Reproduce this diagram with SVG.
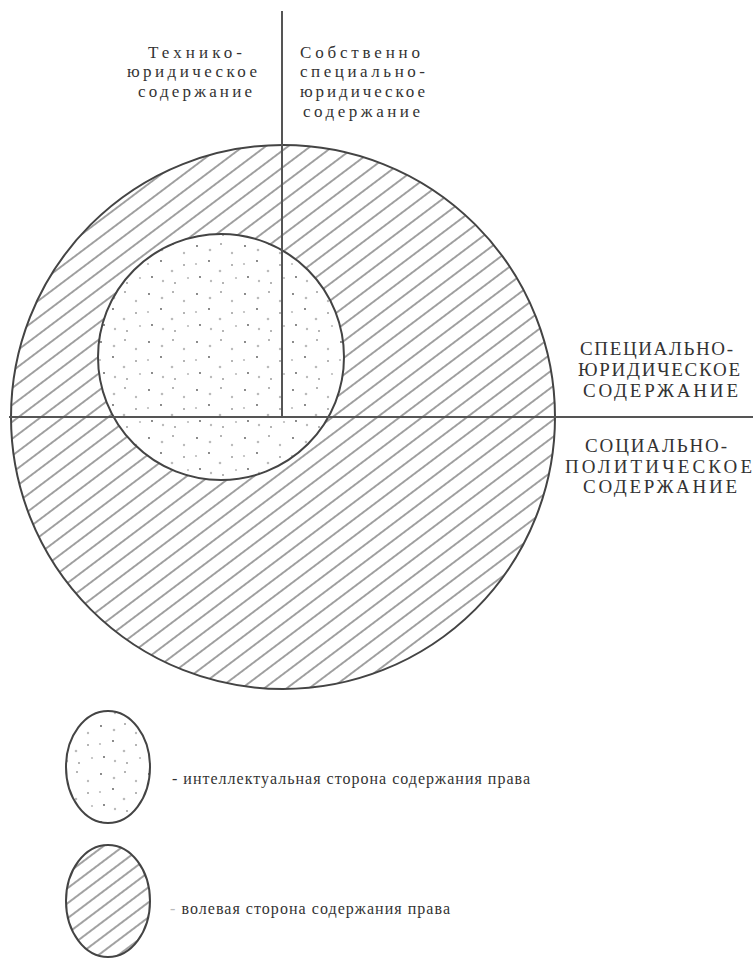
<svg xmlns="http://www.w3.org/2000/svg" width="753" height="959" viewBox="0 0 753 959">
<defs>
<pattern id="hatch" patternUnits="userSpaceOnUse" width="20" height="13.5" patternTransform="rotate(-37)">
<line x1="0" y1="6.75" x2="20" y2="6.75" stroke="#555" stroke-width="1.1"/>
</pattern>
<pattern id="hatch2" patternUnits="userSpaceOnUse" width="20" height="12" patternTransform="rotate(-37)">
<line x1="0" y1="6" x2="20" y2="6" stroke="#555" stroke-width="1.1"/>
</pattern>
<pattern id="dots" patternUnits="userSpaceOnUse" width="48" height="48">
<g fill="#555">
<circle cx="5" cy="6" r="0.9"/>
<circle cx="29" cy="4" r="0.8"/>
<circle cx="17" cy="21" r="0.9"/>
<circle cx="40" cy="25" r="0.8"/>
<circle cx="8" cy="37" r="0.9"/>
<circle cx="31" cy="43" r="0.8"/>
</g>
<g fill="#bbb">
<circle cx="18" cy="10" r="1.3"/>
<circle cx="40" cy="13" r="1.2"/>
<circle cx="28" cy="31" r="1.3"/>
<circle cx="4" cy="24" r="1.1"/>
<circle cx="19" cy="41" r="1.2"/>
<circle cx="44" cy="38" r="1.1"/>
</g>
</pattern>
<style>
.ln{stroke:#444;stroke-width:2;fill:none}
.ax{stroke:#555;stroke-width:2}
text{fill:#333;font-family:"Liberation Serif",Tinos,"Times New Roman",Times,"DejaVu Serif","Noto Serif",FreeSerif,serif}
.s{font-size:17px}
.c{font-size:19px}
.l{font-size:16px}
</style>
</defs>
<g id="outer-circle">
<circle cx="283" cy="417" r="272" fill="url(#hatch)"/>
<circle cx="283" cy="417" r="272" class="ln"/>
</g>
<g id="inner-circle">
<circle cx="221" cy="357" r="123" fill="#fff"/>
<circle cx="221" cy="357" r="123" fill="url(#dots)"/>
<circle cx="221" cy="357" r="123" class="ln" stroke-width="2.5"/>
</g>
<g id="axes">
<line x1="282" y1="11" x2="282" y2="417" class="ax"/>
<line x1="9" y1="417" x2="753" y2="417" class="ax"/>
</g>
<g id="label-tech">
<text class="s" x="148" y="58" textLength="94">Технико-</text>
<text class="s" x="127" y="77" textLength="130">юридическое</text>
<text class="s" x="138" y="97" textLength="114">содержание</text>
</g>
<g id="label-proper">
<text class="s" x="300" y="58" textLength="120">Собственно</text>
<text class="s" x="300" y="77" textLength="125">специально-</text>
<text class="s" x="300" y="97" textLength="125">юридическое</text>
<text class="s" x="303" y="117" textLength="117">содержание</text>
</g>
<g id="label-special">
<text class="c" x="580" y="355" textLength="153">СПЕЦИАЛЬНО-</text>
<text class="c" x="578" y="376" textLength="162">ЮРИДИЧЕСКОЕ</text>
<text class="c" x="583" y="397" textLength="155">СОДЕРЖАНИЕ</text>
</g>
<g id="label-social">
<text class="c" x="585" y="452" textLength="142">СОЦИАЛЬНО-</text>
<text class="c" x="565" y="473" textLength="187">ПОЛИТИЧЕСКОЕ</text>
<text class="c" x="583" y="493" textLength="154">СОДЕРЖАНИЕ</text>
</g>
<g id="legend-intellectual">
<ellipse cx="108" cy="767" rx="42" ry="56" fill="url(#dots)"/>
<ellipse cx="108" cy="767" rx="42" ry="56" class="ln"/>
<text class="l" x="172" y="784" textLength="358">- интеллектуальная сторона содержания права</text>
</g>
<g id="legend-volitional">
<ellipse cx="108" cy="901" rx="42" ry="56" fill="url(#hatch2)"/>
<ellipse cx="108" cy="901" rx="42" ry="56" class="ln"/>
<text class="l" x="170" y="914" textLength="280"><tspan fill="#bbb">- </tspan>волевая сторона содержания права</text>
</g>
</svg>
